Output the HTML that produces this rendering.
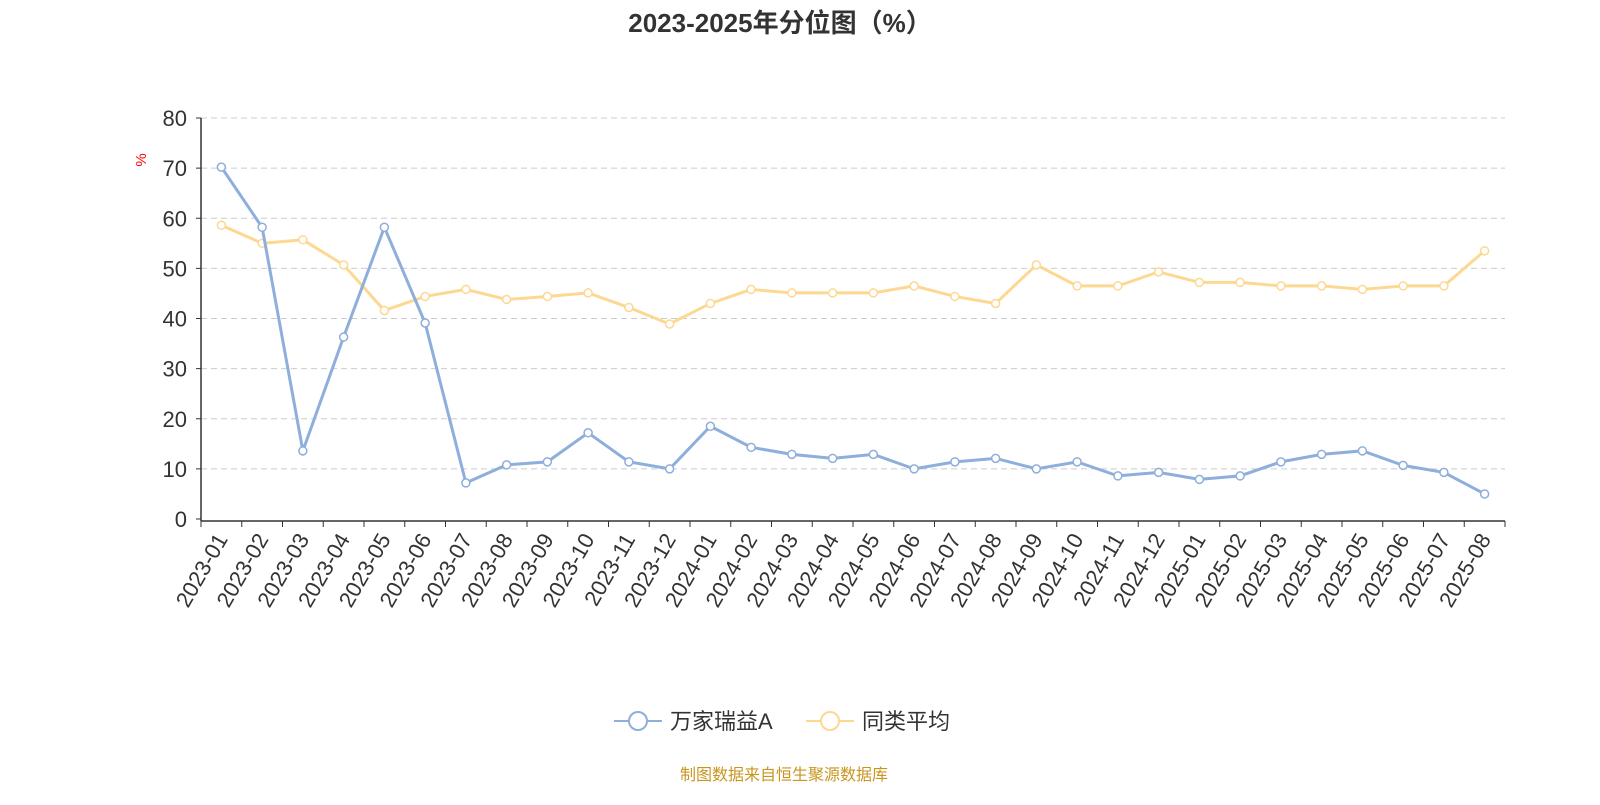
<!DOCTYPE html>
<html><head><meta charset="utf-8"><style>
body{margin:0;background:#fff;font-family:"Liberation Sans","Noto Sans CJK SC",sans-serif;}
</style></head><body>
<svg width="1600" height="800" xmlns="http://www.w3.org/2000/svg">
<text x="780" y="32" text-anchor="middle" font-size="26" font-weight="bold" fill="#333" font-family="Liberation Sans,Noto Sans CJK SC,sans-serif">2023-2025年分位图（%）</text>
<g id="grid"></g>
<g id="axes"></g>
<g id="series"></g>
<text x="146" y="160" font-size="15" fill="red" transform="rotate(-90 146 160)" text-anchor="middle">%</text>
<g>
<line x1="614" y1="721" x2="662" y2="721" stroke="#8eaedb" stroke-width="2"/>
<circle cx="638" cy="721" r="9" fill="#fff" stroke="#8eaedb" stroke-width="2"/>
<text x="670" y="729" font-size="22" fill="#333" font-family="Liberation Sans,Noto Sans CJK SC,sans-serif">万家瑞益A</text></g>
<g>
<line x1="806" y1="721" x2="854" y2="721" stroke="#fdd892" stroke-width="2"/>
<circle cx="830" cy="721" r="9" fill="#fff" stroke="#fdd892" stroke-width="2"/>
<text x="862" y="729" font-size="22" fill="#333" font-family="Liberation Sans,Noto Sans CJK SC,sans-serif">同类平均</text></g>
<text x="784" y="780" text-anchor="middle" font-size="16" fill="#c8961e" font-family="Liberation Sans,Noto Sans CJK SC,sans-serif">制图数据来自恒生聚源数据库</text>
</svg>
<script>
const categories=["2023-01","2023-02","2023-03","2023-04","2023-05","2023-06","2023-07","2023-08","2023-09","2023-10","2023-11","2023-12","2024-01","2024-02","2024-03","2024-04","2024-05","2024-06","2024-07","2024-08","2024-09","2024-10","2024-11","2024-12","2025-01","2025-02","2025-03","2025-04","2025-05","2025-06","2025-07","2025-08"];
const fundValues=[70.2,58.2,13.6,36.3,58.2,39.1,7.2,10.8,11.4,17.2,11.4,10.0,18.5,14.3,12.9,12.1,12.9,10.0,11.4,12.1,10.0,11.4,8.6,9.3,7.9,8.6,11.4,12.9,13.6,10.7,9.3,5.0];
const avgValues=[58.6,55.0,55.7,50.7,41.6,44.4,45.8,43.8,44.4,45.1,42.2,38.9,43.0,45.8,45.1,45.1,45.1,46.5,44.4,43.0,50.7,46.5,46.5,49.3,47.2,47.2,46.5,46.5,45.8,46.5,46.5,53.5];
const yTicks=[0,10,20,30,40,50,60,70,80];
const NS="http://www.w3.org/2000/svg";
const X0=201,X1=1505,Y0=519,Y1=118,YMAX=80;
const bw=(X1-X0)/categories.length;
const xs=i=>X0+bw*(i+0.5);
const ys=v=>Y0-(v/YMAX)*(Y0-Y1);
function mk(t,a,p){const e=document.createElementNS(NS,t);for(const k in a)e.setAttribute(k,a[k]);p.appendChild(e);return e;}
const grid=document.getElementById('grid'),axes=document.getElementById('axes'),ser=document.getElementById('series');
yTicks.forEach(v=>{
 if(v>0){const g=mk('line',{x1:X0,x2:X1,y1:ys(v),y2:ys(v),stroke:'#ccc','stroke-dasharray':'6,4'},grid);
 
 }
 const t=mk('text',{x:X0-14,y:ys(v)+8,'text-anchor':'end','font-size':22,fill:'#333'},axes);t.textContent=v;
 
 
 mk('line',{x1:X0-5,x2:X0,y1:ys(v),y2:ys(v),stroke:'#333'},axes);
});
mk('line',{x1:X0,x2:X0,y1:Y1,y2:Y0+2,stroke:'#333','stroke-width':1.5},axes);
mk('line',{x1:X0,x2:X1,y1:Y0+2,y2:Y0+2,stroke:'#333','stroke-width':1.5},axes);
for(let i=0;i<=categories.length;i++)mk('line',{x1:X0+bw*i,x2:X0+bw*i,y1:Y0+2,y2:Y0+8,stroke:'#333'},axes);
categories.forEach((c,i)=>{const x=xs(i)+7,y=Y0+20;
 const t=mk('text',{x:x,y:y,'text-anchor':'end','font-size':22,fill:'#333',transform:`rotate(-60 ${x} ${y})`},axes);t.textContent=c;
 
 });
function draw(vals,color,name){
 const p=mk('polyline',{points:vals.map((v,i)=>xs(i)+','+ys(v)).join(' '),fill:'none',stroke:color,'stroke-width':3},ser);
 
 
 vals.forEach((v,i)=>{const c=mk('circle',{cx:xs(i),cy:ys(v),r:4,fill:'#fff',stroke:color,'stroke-width':1.5},ser);
 
 });
}
draw(avgValues,'#fdd892','average');
draw(fundValues,'#8eaedb','fund');
</script>
</body></html>
